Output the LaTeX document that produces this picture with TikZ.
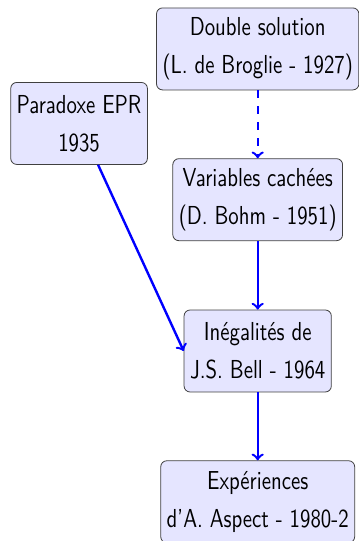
\documentclass[tikz,border=0pt]{standalone}
\usepackage{fontspec}
\usepackage{tikz}
\newfontfamily\condsans{lmsans10-regular.otf}[FakeStretch=0.8,Ligatures=TeX]

\begin{document}
\begin{tikzpicture}[every node/.style={rectangle,rounded corners=3pt,draw=black!75,fill=blue!10,
        align=center,inner xsep=3pt,minimum height=41pt,
        font=\condsans\fontsize{13}{19}\selectfont}]
        \tikzset{edge/.style = {->,blue,line width=1.2pt}}
        \useasboundingbox (0,0) rectangle (6.31,-9.51);
        \clip (0,0) rectangle (6.31,-9.51);
        \node (dbl) at (4.53,-0.86) {Double solution\\(L. de Broglie - 1927)};
        \node (epr) at (1.39,-2.17) {Paradoxe EPR\\1935};
        \node (var) at (4.53,-3.51) {Variables cach\'ees\\(D. Bohm - 1951)};
        \node (bell) at (4.53,-6.17) {In\'egalit\'es de\\J.S. Bell - 1964};
        \node (asp) at (4.53,-8.82) {Exp\'eriences\\d'A. Aspect - 1980-2};
        
        \draw[edge,dash pattern=on 4pt off 4pt] (dbl) to (var);
        \draw[edge] (var) to (bell);
        \draw[edge] (epr) to (bell.west);
        \draw[edge] (bell) to (asp);
\end{tikzpicture}
\end{document}
